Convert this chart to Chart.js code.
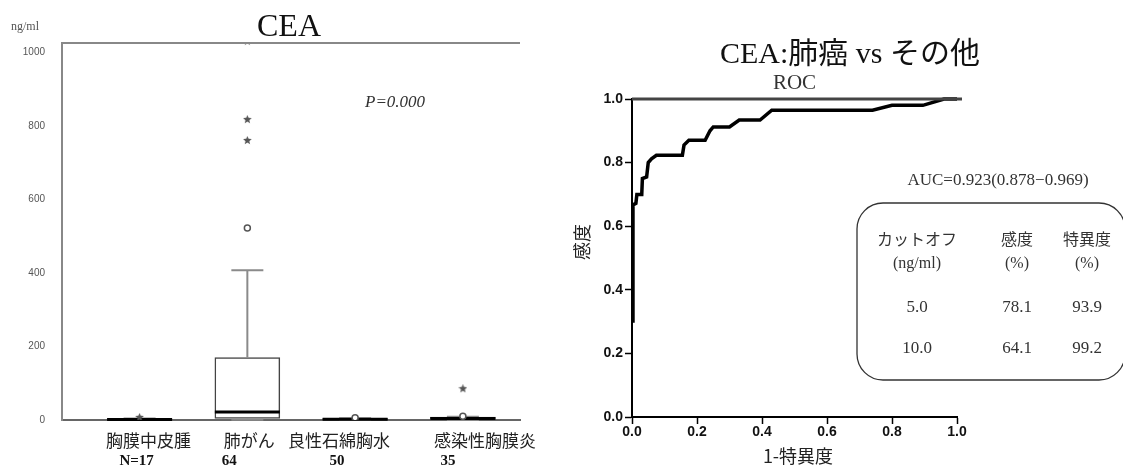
<!DOCTYPE html>
<html>
<head>
<meta charset="utf-8">
<script src="https://cdn.jsdelivr.net/npm/chart.js@4.4.1/dist/chart.umd.min.js"></script>
<style>
  html, body { margin: 0; padding: 0; background: #fff; width: 1123px; height: 468px; overflow: hidden; }
  #boxWrap { position: absolute; left: 0; top: 0; width: 540px; height: 468px; }
  #rocWrap { position: absolute; left: 540px; top: 0; width: 583px; height: 468px; }
</style>
</head>
<body>
<div id="boxWrap"><canvas id="cBox" width="540" height="468"></canvas></div>
<div id="rocWrap"><canvas id="cRoc" width="583" height="468"></canvas></div>
<script>
// ---- CEA by diagnosis (box plot) ----
const groups = ['胸膜中皮腫', '肺がん', '良性石綿胸水', '感染性胸膜炎'];
const groupN = ['N=17', '64', '50', '35'];
const q1 = [0.5, 4, 1, 2];
const median = [1.5, 22, 2, 4];
const q3 = [3, 170, 4, 8];
const whiskerLow = [0, 0.5, 0, 0];
const whiskerHigh = [4, 407, 5, 9];
const outlierCircles = [[], [522], [6], [10]];
const extremeStars = [[7], [760, 817, 1030], [], [85]];
const boxYTicks = [0, 200, 400, 600, 800, 1000];

// ---- ROC curve: lung cancer vs others ----
const rocFpr = [0.003, 0.003, 0.012, 0.015, 0.030, 0.032, 0.045, 0.050, 0.060, 0.075, 0.155, 0.160, 0.175, 0.225, 0.240, 0.250, 0.300, 0.330, 0.394, 0.430, 0.740, 0.800, 0.895, 0.960, 1.000];
const rocTpr = [0.296, 0.667, 0.672, 0.700, 0.700, 0.750, 0.755, 0.800, 0.812, 0.823, 0.823, 0.855, 0.870, 0.870, 0.900, 0.912, 0.912, 0.934, 0.934, 0.965, 0.965, 0.980, 0.980, 1.000, 1.000];
const rocTicks = [0, 0.2, 0.4, 0.6, 0.8, 1.0];
const aucText = 'AUC=0.923(0.878−0.969)';
const cutoffHeader = [['カットオフ', '(ng/ml)'], ['感度', '(%)'], ['特異度', '(%)']];
const cutoffRows = [['5.0', '78.1', '93.9'], ['10.0', '64.1', '99.2']];

const SERIF = '"Liberation Serif", "Noto Sans CJK JP", serif';
const GOTHIC = '"Noto Sans CJK JP", "Noto Sans", sans-serif';

// small filled star used for extreme values
function makeStar(size, color) {
  const c = document.createElement('canvas');
  c.width = size; c.height = size;
  const g = c.getContext('2d');
  const cx = size / 2, cy = size / 2, ro = size / 2, ri = ro * 0.45;
  g.beginPath();
  for (let k = 0; k < 10; k++) {
    const r = k % 2 ? ri : ro;
    const ang = -Math.PI / 2 + k * Math.PI / 5;
    g.lineTo(cx + r * Math.cos(ang), cy + r * Math.sin(ang));
  }
  g.closePath();
  g.fillStyle = color;
  g.fill();
  return c;
}
const starGlyph = makeStar(9, '#555');

// whiskers, caps and medians drawn right after the boxes
const boxDecor = {
  id: 'boxDecor',
  afterDatasetDraw(chart, args) {
    if (args.index !== 0) return;
    const { ctx } = chart;
    const xs = chart.scales.x, ys = chart.scales.y;
    const half = 32.5, cap = 16;
    ctx.save();
    groups.forEach((g, i) => {
      const cx = xs.getPixelForValue(i + 1);
      ctx.strokeStyle = '#8a8a8a';
      ctx.lineWidth = 2;
      ctx.beginPath();
      ctx.moveTo(cx, ys.getPixelForValue(q3[i]));
      ctx.lineTo(cx, ys.getPixelForValue(whiskerHigh[i]));
      ctx.moveTo(cx - cap, ys.getPixelForValue(whiskerHigh[i]));
      ctx.lineTo(cx + cap, ys.getPixelForValue(whiskerHigh[i]));
      ctx.moveTo(cx, ys.getPixelForValue(q1[i]));
      ctx.lineTo(cx, ys.getPixelForValue(whiskerLow[i]));
      ctx.moveTo(cx - cap, ys.getPixelForValue(whiskerLow[i]));
      ctx.lineTo(cx + cap, ys.getPixelForValue(whiskerLow[i]));
      ctx.stroke();
      ctx.strokeStyle = '#000';
      ctx.lineWidth = 3;
      ctx.beginPath();
      ctx.moveTo(cx - half, ys.getPixelForValue(median[i]));
      ctx.lineTo(cx + half, ys.getPixelForValue(median[i]));
      ctx.stroke();
    });
    ctx.restore();
  },
  afterDraw(chart, args, opts) {
    const { ctx, chartArea: a } = chart;
    const xs = chart.scales.x;
    ctx.save();
    // top frame line
    ctx.strokeStyle = '#888';
    ctx.lineWidth = 2;
    ctx.beginPath();
    ctx.moveTo(a.left, a.top);
    ctx.lineTo(a.right, a.top);
    ctx.stroke();

    ctx.fillStyle = '#111';
    ctx.textAlign = 'center';
    ctx.textBaseline = 'alphabetic';
    ctx.font = '32px ' + SERIF;
    ctx.fillText('CEA', 289, 36);

    ctx.fillStyle = '#555';
    ctx.textAlign = 'left';
    ctx.font = '12px ' + SERIF;
    ctx.fillText('ng/ml', 11, 30);

    ctx.fillStyle = '#333';
    ctx.font = 'italic 17px ' + SERIF;
    ctx.fillText('P=0.000', 365, 107);

    ctx.textAlign = 'center';
    ctx.textBaseline = 'middle';
    groups.forEach((g, i) => {
      const cx = xs.getPixelForValue(i + 1);
      ctx.fillStyle = '#222';
      ctx.font = '17px ' + GOTHIC;
      ctx.fillText(g, cx + opts.nameShift[i], 441);
      ctx.fillStyle = '#111';
      ctx.font = 'bold 15px ' + SERIF;
      ctx.fillText(groupN[i], cx + opts.countShift[i], 461);
    });
    ctx.restore();
  }
};

const boxData = groups.map((g, i) => ({ x: i + 1, y: [q1[i], q3[i]] }));
const circlePts = [], starPts = [];
groups.forEach((g, i) => {
  outlierCircles[i].forEach(v => circlePts.push({ x: i + 1, y: v }));
  extremeStars[i].forEach(v => starPts.push({ x: i + 1, y: v }));
});

new Chart(document.getElementById('cBox'), {
  type: 'bar',
  data: {
    datasets: [
      {
        data: boxData,
        backgroundColor: '#fff',
        borderColor: '#444',
        borderWidth: 1.5,
        borderSkipped: false,
        barThickness: 65,
        grouped: false,
        order: 3
      },
      {
        type: 'scatter',
        data: circlePts,
        pointStyle: 'circle',
        pointRadius: 3,
        backgroundColor: '#fff',
        borderColor: '#555',
        borderWidth: 1.5,
        order: 1
      },
      {
        type: 'scatter',
        data: starPts,
        pointStyle: starGlyph,
        pointRadius: 4,
        clip: 0,
        order: 2
      }
    ]
  },
  options: {
    responsive: false,
    animation: false,
    events: [],
    layout: { padding: { left: 0, top: 43, right: 20, bottom: 0 } },
    plugins: {
      legend: { display: false },
      tooltip: { enabled: false },
      boxDecor: { nameShift: [9, 2, -16, 22], countShift: [-3, -18, -18, -15] }
    },
    scales: {
      x: {
        type: 'linear',
        offset: false,
        min: 0.28,
        max: 4.53,
        grid: { display: false, drawTicks: false, offset: false },
        border: { display: true, color: '#666', width: 2 },
        ticks: { display: false },
        afterFit(s) { s.height = 48; }
      },
      y: {
        type: 'linear',
        min: 0,
        max: 1025,
        grid: { display: false, drawTicks: false },
        border: { display: true, color: '#888', width: 2 },
        afterBuildTicks(s) { s.ticks = boxYTicks.map(v => ({ value: v })); },
        ticks: {
          padding: 17,
          color: '#555',
          font: { family: '"Liberation Sans", sans-serif', size: 10 },
          callback: v => String(v)
        },
        afterFit(s) { s.width = 62; }
      }
    }
  },
  plugins: [boxDecor]
});

// ---- ROC panel ----
const rocDecor = {
  id: 'rocDecor',
  afterDraw(chart) {
    const { ctx, chartArea: a } = chart;
    ctx.save();
    ctx.strokeStyle = '#444';
    ctx.lineWidth = 3;
    ctx.beginPath();
    ctx.moveTo(a.left, a.top);
    ctx.lineTo(a.right + 5, a.top);
    ctx.stroke();

    ctx.fillStyle = '#111';
    ctx.textAlign = 'center';
    ctx.textBaseline = 'alphabetic';
    ctx.font = '30px ' + SERIF;
    ctx.fillText('CEA:肺癌 vs その他', 310, 63);

    ctx.fillStyle = '#333';
    ctx.font = '21px ' + SERIF;
    ctx.fillText('ROC', (a.left + a.right) / 2, 89);

    ctx.font = '17px ' + SERIF;
    ctx.fillText(aucText, 458, 185);

    // cut-off table frame
    const bx = 317, by = 203, bw = 268, bh = 177, r = 26;
    ctx.strokeStyle = '#333';
    ctx.lineWidth = 1.3;
    ctx.beginPath();
    ctx.moveTo(bx + r, by);
    ctx.lineTo(bx + bw - r, by);
    ctx.arcTo(bx + bw, by, bx + bw, by + r, r);
    ctx.lineTo(bx + bw, by + bh - r);
    ctx.arcTo(bx + bw, by + bh, bx + bw - r, by + bh, r);
    ctx.lineTo(bx + r, by + bh);
    ctx.arcTo(bx, by + bh, bx, by + bh - r, r);
    ctx.lineTo(bx, by + r);
    ctx.arcTo(bx, by, bx + r, by, r);
    ctx.closePath();
    ctx.stroke();

    const cols = [377, 477, 547];
    ctx.fillStyle = '#333';
    cutoffHeader.forEach((h, c) => {
      ctx.font = '16px ' + GOTHIC;
      ctx.fillText(h[0], cols[c], 245);
      ctx.font = '16px ' + SERIF;
      ctx.fillText(h[1], cols[c], 268);
    });
    ctx.font = '17px ' + SERIF;
    cutoffRows.forEach((row, k) => {
      row.forEach((t, c) => ctx.fillText(t, cols[c], 312 + k * 41));
    });

    // axis titles
    ctx.fillStyle = '#222';
    ctx.font = '18px ' + GOTHIC;
    ctx.fillText('1-特異度', 258, 463);
    ctx.translate(42, 242);
    ctx.rotate(-Math.PI / 2);
    ctx.textBaseline = 'middle';
    ctx.fillText('感度', 0, 0);
    ctx.restore();
  }
};

new Chart(document.getElementById('cRoc'), {
  type: 'scatter',
  data: {
    datasets: [{
      data: rocFpr.map((f, i) => ({ x: f, y: rocTpr[i] })),
      showLine: true,
      borderColor: '#000',
      borderWidth: 3.5,
      pointRadius: 0,
      borderJoinStyle: 'miter',
      clip: false
    }]
  },
  options: {
    responsive: false,
    animation: false,
    events: [],
    layout: { padding: { left: 0, top: 99, right: 166, bottom: 0 } },
    plugins: { legend: { display: false }, tooltip: { enabled: false } },
    scales: {
      x: {
        type: 'linear',
        min: 0,
        max: 1,
        grid: { drawOnChartArea: false, drawTicks: true, tickLength: 7, tickWidth: 1.5, tickColor: '#000' },
        border: { display: true, color: '#000', width: 2 },
        afterBuildTicks(s) { s.ticks = rocTicks.map(v => ({ value: v })); },
        ticks: {
          padding: 0,
          color: '#111',
          font: { family: '"Liberation Sans", sans-serif', size: 14, weight: 'bold' },
          callback: v => Number(v).toFixed(1)
        },
        afterFit(s) { s.height = 51; }
      },
      y: {
        type: 'linear',
        min: 0,
        max: 1,
        grid: { drawOnChartArea: false, drawTicks: true, tickLength: 7, tickWidth: 1.5, tickColor: '#000' },
        border: { display: true, color: '#000', width: 2 },
        afterBuildTicks(s) { s.ticks = rocTicks.map(v => ({ value: v })); },
        ticks: {
          padding: 2,
          color: '#111',
          font: { family: '"Liberation Sans", sans-serif', size: 14, weight: 'bold' },
          callback: v => Number(v).toFixed(1)
        },
        afterFit(s) { s.width = 92; }
      }
    }
  },
  plugins: [rocDecor]
});
</script>
</body>
</html>
